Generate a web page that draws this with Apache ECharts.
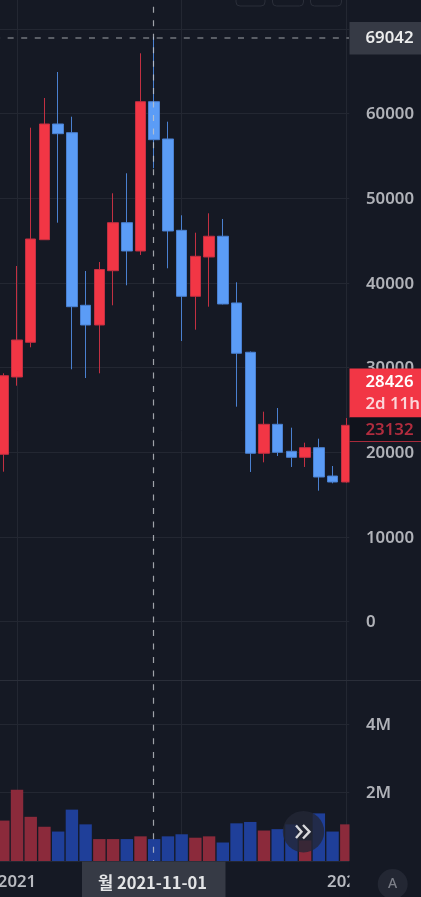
<!DOCTYPE html>
<html>
<head>
<meta charset="utf-8">
<style>html,body{margin:0;padding:0;background:#151924;overflow:hidden}#c{width:421px;height:897px}</style>
<script src="https://cdn.jsdelivr.net/npm/echarts@6/dist/echarts.min.js"></script>
</head>
<body>
<div id="c"></div>
<script>
const months = ['2020-12','2021-01','2021-02','2021-03','2021-04','2021-05','2021-06','2021-07','2021-08','2021-09','2021-10','2021-11','2021-12','2022-01','2022-02','2022-03','2022-04','2022-05','2022-06','2022-07','2022-08','2022-09','2022-10','2022-11','2022-12','2023-01'];
const opens  = [19747,28877,32975,45093,58757,57730,37345,35018,41431,47100,43758,61391,56987,46200,38408,43050,45500,37620,31800,19870,23290,20100,19390,20530,17180,16475];
const closes = [29030,33247,45176,58757,57612,37180,35018,41573,47100,43758,61391,56903,46120,38408,43132,45500,37500,31680,19870,23290,19980,19390,20530,17065,16475,23170];
const lows   = [17692,27850,32385,45060,47100,29786,28758,29314,37345,39707,43285,53525,41713,33128,34463,37180,37450,25370,17657,18800,19545,18250,18250,15450,16320,16400];
const highs  = [29314,41987,58321,61828,64899,59620,41396,42460,50573,52935,67107,69042,59030,47975,45920,48210,47540,40060,31890,24780,25215,22890,21120,21590,18365,24030];
const volumes = [1.18,2.08,1.29,1.0,0.86,1.5,1.07,0.64,0.64,0.64,0.72,0.64,0.72,0.78,0.68,0.72,0.54,1.1,1.14,0.89,0.93,1.07,0.6,1.39,0.86,1.07];
const crosshairPrice = '69042';
const crosshairDate = '월 2021-11-01';
const lastPrice = '28426';
const countdown = '2d 11h';
const prevPrice = '23132';

const BG='#151924', GRID='#232732', UP='#f23645', DOWN='#5b9cf6', UPW='#c23042', DOWNW='#4a80d0', TXT='#b0b2b8', BOX='#363a45';
const FONT='"Noto Sans"';
const L=3.3, W=343, PANEL=349.5;
const chart = echarts.init(document.getElementById('c'), null, {renderer:'canvas'});
const hide={axisLine:{show:false},axisTick:{show:false}};
const catAxis=(i,extra)=>Object.assign({type:'category',gridIndex:i,data:months,boundaryGap:false,axisLabel:{show:false},splitLine:{show:false}},hide,extra||{});
const dummyX=(i)=>Object.assign({type:'value',gridIndex:i,min:0,max:1,axisLabel:{show:false},splitLine:{show:false}},hide);
const plainY=(i,min,max,interval)=>Object.assign({type:'value',gridIndex:i,min,max,interval,axisLabel:{show:false},splitLine:{show:false}},hide);
const lineY=(i,min,max,interval)=>Object.assign({type:'value',gridIndex:i,min,max,interval,position:'right',axisLabel:{show:false},splitLine:{show:true,lineStyle:{color:GRID,width:1}},z:0},hide);
const labelY=(i,min,max,interval,fmt)=>Object.assign({type:'value',gridIndex:i,min,max,interval,position:'right',splitLine:{show:false},z:5,axisLabel:{show:true,inside:false,margin:16.5,color:TXT,fontFamily:FONT,fontSize:16.8,fontWeight:600,formatter:fmt}},hide);
const g=(left,width,top,height)=>({left,width,top,height,outerBoundsMode:'none'});
chart.setOption({
  animation:false,
  backgroundColor:BG,
  grid:[
    g(L,W,28.8,592.7),
    g(L,W,724,137),
    g(L,W,0,861),
    g(0,PANEL,28.8,592.7),
    g(0,PANEL,724,137),
    g(0,PANEL,30,592.7),
    g(0,PANEL,725.2,137)
  ],
  xAxis:[
    catAxis(0),catAxis(1),
    catAxis(2,{z:0,
      axisLabel:{show:true,margin:13,color:'#b8bac0',fontFamily:FONT,fontSize:16.8,fontWeight:600,
        alignMinLabel:'center',alignMaxLabel:'center',
        interval:(i)=>i%12===1,formatter:(v)=>v.slice(0,4),hideOverlap:false},
      splitLine:{show:true,interval:(i)=>i%12===1,lineStyle:{color:GRID,width:1}}
    }),
    dummyX(3),dummyX(4),dummyX(5),dummyX(6)
  ],
  yAxis:[
    plainY(0,0,70000,10000),
    plainY(1,0,4000000,2000000),
    plainY(2,0,1,1),
    lineY(3,0,70000,10000),
    lineY(4,0,4000000,2000000),
    labelY(5,0,70000,10000,(v)=>v===70000?'':String(v)),
    labelY(6,0,4000000,2000000,(v)=>v===0?'':(v/1000000)+'M')
  ],
  series:[
    {type:'candlestick',xAxisIndex:0,yAxisIndex:0,barWidth:11,z:2,clip:false,
      itemStyle:{color:UP,color0:DOWN,borderColor:UPW,borderColor0:DOWNW,borderWidth:1},
      data:months.map((m,i)=>[opens[i],closes[i],lows[i],highs[i]])},
    {type:'bar',xAxisIndex:1,yAxisIndex:1,barWidth:12.4,z:2,clip:false,
      data:volumes.map((v,i)=>({value:v*1000000,itemStyle:{color:closes[i]>=opens[i]?'#8b2a3b':'#1f3f99'}}))}
  ],
  graphic:[
    {type:'rect',z:3,shape:{x:PANEL,y:0,width:72,height:897},style:{fill:BG},silent:true},
    {type:'line',z:3,shape:{x1:0,y1:680.5,x2:421,y2:680.5},style:{stroke:'#2a2e39',lineWidth:1}},
    {type:'rect',z:3,shape:{x:236,y:-10,width:29,height:16,r:4},style:{fill:'none',stroke:'#2a2e39',lineWidth:1}},
    {type:'rect',z:3,shape:{x:272.5,y:-10,width:31,height:16,r:4},style:{fill:'none',stroke:'#2a2e39',lineWidth:1}},
    {type:'rect',z:3,shape:{x:310.5,y:-10,width:31,height:16,r:4},style:{fill:'none',stroke:'#2a2e39',lineWidth:1}},
    {type:'line',z:4,shape:{x1:153.5,y1:-6.9,x2:153.5,y2:861},style:{stroke:'rgba(195,197,203,0.8)',lineWidth:1.2,lineDash:[6,7.55]}},
    {type:'line',z:4,shape:{x1:-5.9,y1:38,x2:349,y2:38},style:{stroke:'rgba(195,197,203,0.8)',lineWidth:1.2,lineDash:[6,7.55]}},
    {type:'rect',z:6,shape:{x:PANEL,y:22,width:72,height:32.5},style:{fill:BOX}},
    {type:'text',z:7,x:365.5,y:38.5,style:{text:crosshairPrice,fill:'#eceded',font:'600 16.8px '+FONT,textVerticalAlign:'middle',textAlign:'left'}},
    {type:'rect',z:6,shape:{x:PANEL,y:368.5,width:72,height:49},style:{fill:UP}},
    {type:'text',z:7,x:365.5,y:382,style:{text:lastPrice,fill:'#ffffff',font:'600 16.8px '+FONT,textVerticalAlign:'middle',textAlign:'left'}},
    {type:'text',z:7,x:365.5,y:404.5,style:{text:countdown,fill:'#fbd5d9',font:'600 16.8px '+FONT,textVerticalAlign:'middle',textAlign:'left'}},
    {type:'rect',z:6,shape:{x:350,y:417.5,width:72,height:24},style:{fill:'#10131c'}},
    {type:'line',z:7,shape:{x1:PANEL,y1:441.5,x2:421,y2:441.5},style:{stroke:'#a62a3b',lineWidth:1}},
    {type:'text',z:7,x:365.5,y:430.5,style:{text:prevPrice,fill:'#b02c3e',font:'600 16.8px '+FONT,textVerticalAlign:'middle',textAlign:'left'}},
    {type:'rect',z:6,shape:{x:82,y:861.5,width:143.5,height:36},style:{fill:BOX}},
    {type:'text',z:7,x:152.5,y:882.5,style:{text:crosshairDate,fill:'#e3e4e6',font:'600 16.5px "Noto Sans CJK KR","Noto Sans"',textVerticalAlign:'middle',textAlign:'center'}},
    {type:'circle',z:4,shape:{cx:303.5,cy:831.7,r:20.7},style:{fill:'rgba(35,39,54,0.8)'}},
    {type:'polyline',z:5,shape:{points:[[296,825.5],[301.5,831.7],[296,838]]},style:{fill:'none',stroke:'#d8d9dc',lineWidth:2.4}},
    {type:'polyline',z:5,shape:{points:[[303,825],[309.5,831.7],[303,838.5]]},style:{fill:'none',stroke:'#d8d9dc',lineWidth:2.4}},
    {type:'circle',z:6,shape:{cx:392.7,cy:884,r:15},style:{fill:'#232733'}},
    {type:'text',z:7,x:392.7,y:884,style:{text:'A',fill:'#7c7f88',font:'500 14px '+FONT,textVerticalAlign:'middle',textAlign:'center'}}
  ]
});
</script>
</body>
</html>
